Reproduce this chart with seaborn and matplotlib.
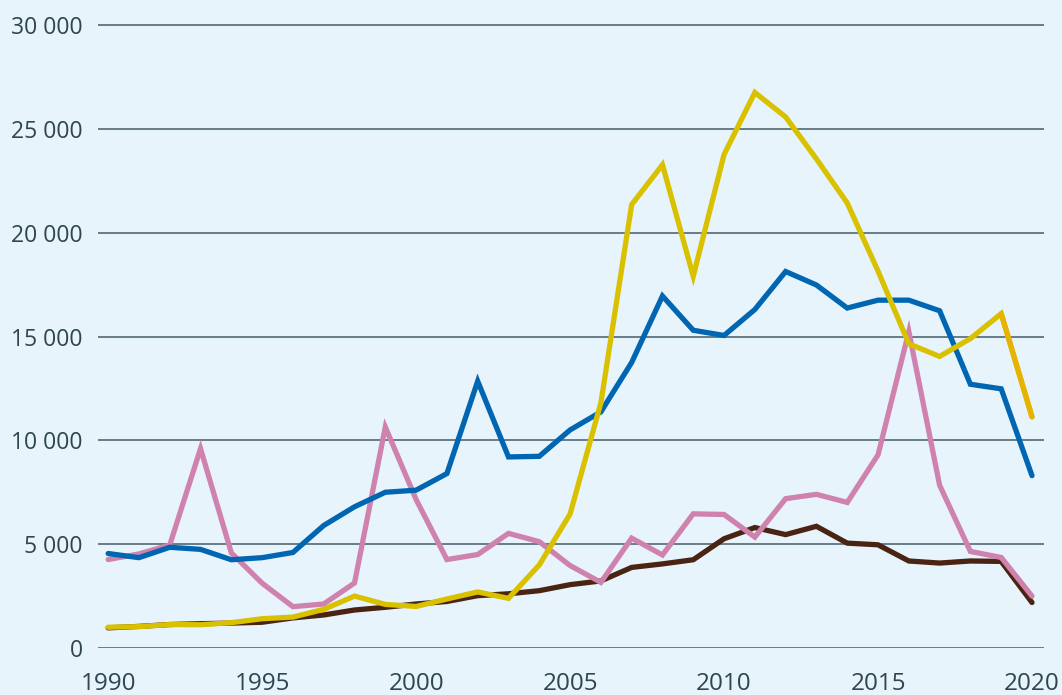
import numpy as np
import pandas as pd
import matplotlib
matplotlib.use("Agg")
import matplotlib.pyplot as plt
import matplotlib.ticker as mticker
import seaborn as sns

# =============================================================================
# DATA
# =============================================================================

YEARS = list(range(1990, 2021))

BLUE = [4550, 4350, 4850, 4750, 4250, 4350, 4600, 5900, 6800, 7500,
        7600, 8400, 12850, 9200, 9230, 10500, 11370, 13750, 16950, 15300,
        15050, 16300, 18130, 17480, 16370, 16750, 16750, 16240, 12700, 12480,
        8300]

YELLOW = [1000, 1030, 1130, 1120, 1220, 1410, 1490, 1860, 2500, 2100,
          2000, 2360, 2700, 2390, 4000, 6450, 11800, 21350, 23270, 17900,
          23760, 26750, 25570, 23550, 21430, 18150, 14650, 14040, 14900, 16100,
          11130]

PINK = [4260, 4530, 4960, 9600, 4580, 3120, 1990, 2120, 3130, 10640,
        7150, 4260, 4500, 5520, 5120, 3970, 3160, 5290, 4480, 6460,
        6430, 5340, 7190, 7400, 7010, 9300, 15240, 7840, 4650, 4360,
        2500]

BROWN = [970, 1040, 1130, 1170, 1200, 1240, 1450, 1590, 1830, 1960,
         2120, 2240, 2520, 2610, 2760, 3050, 3230, 3880, 4050, 4250,
         5260, 5800, 5460, 5860, 5050, 4970, 4190, 4090, 4190, 4170,
         2190]

Y_TICKS = [0, 5000, 10000, 15000, 20000, 25000, 30000]
X_TICKS = [1990, 1995, 2000, 2005, 2010, 2015, 2020]

# drawing order: bottom -> top
SERIES = [
    ("brown", BROWN, "#4a2412"),
    ("pink", PINK, "#cf82ad"),
    ("blue", BLUE, "#0066b1"),
    ("yellow", YELLOW, "#d9c100"),
]
YELLOW_END = "#e8b300"

BG = "#e7f4fc"
GRID = "#455c67"
TEXT = "#2f454f"


def build_frame():
    rows = []
    for name, vals, _ in SERIES:
        for yr, v in zip(YEARS, vals):
            rows.append({"year": yr, "value": v, "series": name})
    return pd.DataFrame(rows)


def main():
    sns.set_style("white", {"axes.facecolor": BG, "figure.facecolor": BG})
    plt.rcParams["font.family"] = ["Open Sans", "DejaVu Sans"]

    df = build_frame()

    fig = plt.figure(figsize=(10.62, 6.95), dpi=100)
    ax = fig.add_axes([98 / 1062, 1 - 648 / 695, (1044 - 98) / 1062, 628 / 695])

    for name, _, color in SERIES:
        sub = df[df["series"] == name]
        sns.lineplot(data=sub, x="year", y="value", color=color, lw=3.8,
                     ax=ax, legend=False, zorder=3, clip_on=False,
                     solid_capstyle="round", solid_joinstyle="miter")

    # last yellow segment is drawn a touch more orange in the original
    sns.lineplot(x=YEARS[-2:], y=YELLOW[-2:], color=YELLOW_END, lw=3.8,
                 ax=ax, legend=False, zorder=3.1, clip_on=False,
                 solid_capstyle="round")

    ax.set_xlim(1989.67, 2020.39)
    ax.set_ylim(0, 30000 * 628 / 623)

    ax.set_yticks(Y_TICKS)
    ax.set_xticks(X_TICKS)
    ax.yaxis.set_major_formatter(
        mticker.FuncFormatter(lambda v, p: f"{int(v):,}".replace(",", " ")))

    for yv in Y_TICKS:
        ax.axhline(yv, color=GRID, lw=1.1, zorder=1)

    for s in ["top", "right", "left", "bottom"]:
        ax.spines[s].set_visible(False)

    ax.tick_params(axis="y", length=0, pad=11, labelsize=16.5, labelcolor=TEXT)
    ax.tick_params(axis="x", length=8.5, width=1, color=GRID, pad=9,
                   labelsize=17.5, labelcolor=TEXT, direction="out")
    ax.set_xlabel("")
    ax.set_ylabel("")

    fig.savefig("out.png", dpi=100, facecolor=BG)


if __name__ == "__main__":
    main()
